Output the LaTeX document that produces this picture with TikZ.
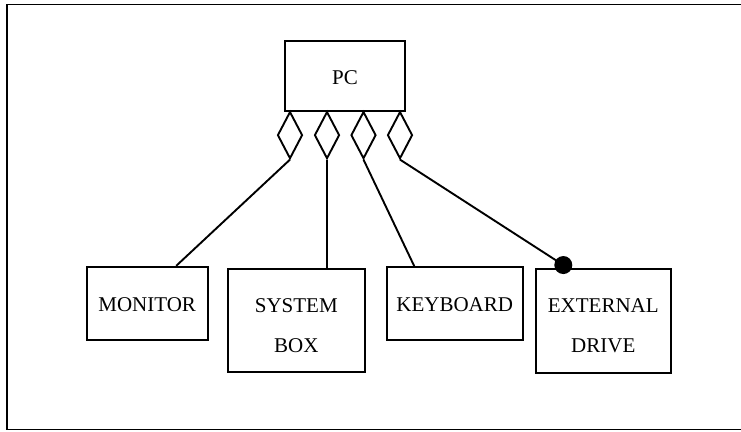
\documentclass[tikz,border=0pt]{standalone}
\usepackage{fontspec}
\setmainfont{Liberation Serif}
\usetikzlibrary{shapes.geometric}
\begin{document}
\begin{tikzpicture}[x=1pt, y=-1pt, line width=1.9pt,
  txt/.style={inner sep=0pt, align=center, font=\fontsize{21}{40}\selectfont},
  part/.style={txt, draw, rectangle},
  agg/.style={draw, diamond, inner sep=0pt, anchor=north,
    minimum width=25pt, minimum height=47pt},
  dot/.style={circle, fill, inner sep=0pt, minimum size=18pt}]
\useasboundingbox (0,0) rectangle (741,431);

% open frame round the diagram
\draw (741,4.5) -- (7,4.5) -- (7,429.5) -- (741,429.5);

% whole and parts
\node[part, minimum width=120pt, minimum height=70pt, text height=18pt] (pc) at (345,75.7) {PC};
\node[part, minimum width=121pt, minimum height=73pt, text height=16pt] (mon) at (147.2,303.3) {MONITOR};
\node[part, minimum width=137pt, minimum height=103pt] (sys) at (296.3,320.5) {};
\node[txt] (systxt) at ([yshift=-5.5pt]sys.center) {SYSTEM\\BOX};
\node[part, minimum width=136pt, minimum height=73pt, text height=16pt] (kbd) at (454.7,303.7) {KEYBOARD};
\node[part, minimum width=135pt, minimum height=104pt] (ext) at (603.3,321) {};
\node[txt] (exttxt) at ([yshift=-5pt]ext.center) {EXTERNAL\\DRIVE};

% aggregation diamonds under the whole
\node[agg] (d1) at (290,110.7) {};
\node[agg] (d2) at (327,110.7) {};
\node[agg] (d3) at (363.5,110.7) {};
\node[agg] (d4) at (400,110.7) {};

% connectors
\node[dot] (opt) at ([xshift=-40pt,yshift=3pt]ext.north) {};
\draw (d1.south) -- ([xshift=29pt]mon.north);
\draw (d2.south) -- (d2.south |- sys.north);
\draw (d3.south) -- ([xshift=-40.4pt]kbd.north);
\draw (d4.south) -- (opt.center);
\end{tikzpicture}
\end{document}
